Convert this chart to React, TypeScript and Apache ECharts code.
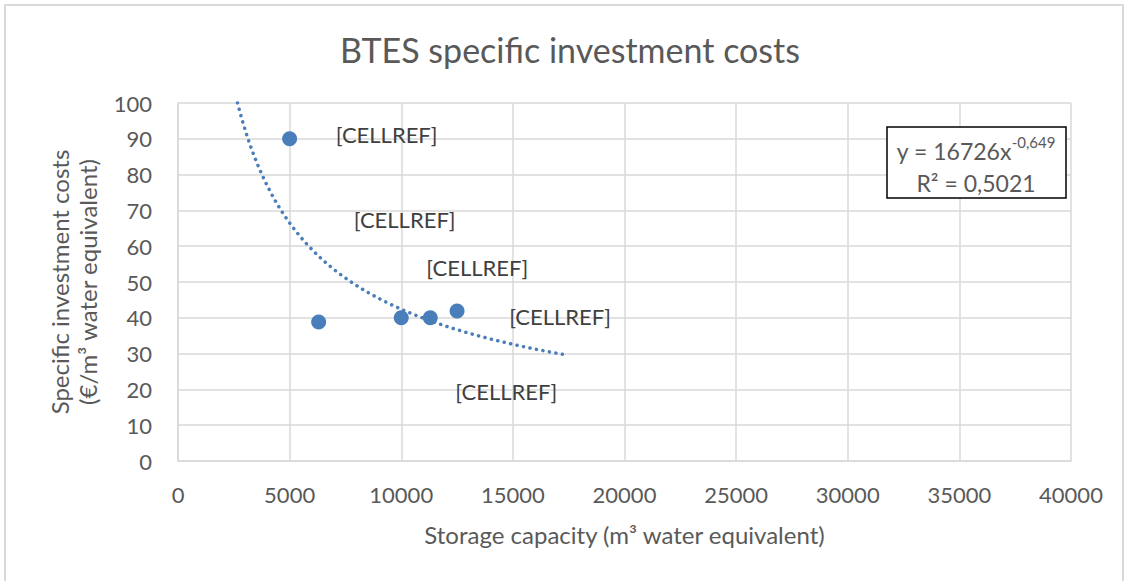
import React, { useEffect, useRef } from "react";
import * as echarts from "echarts";

const TITLE = "BTES specific investment costs";
const X_NAME = "Storage capacity (m³ water equivalent)";
const Y_NAME_LINES = ["Specific investment costs", "(€/m³ water equivalent)"];

const capacities = [5000, 6300, 10000, 11300, 12500];
const costs = [90, 38.8, 40, 40, 41.9];
const labelText = "[CELLREF]";
// label offsets (style) for each point's displaced data label
const labelOffsets: [number, number][] = [
  [97, -4],
  [86, -103],
  [76, -50],
  [76, 74],
  [103, 6],
];

// power trendline y = A * x^B (from the chart's trendline equation)
const TREND_A = 16726;
const TREND_B = -0.649;
const TREND_X_START = 2664;
const TREND_X_END = 17424;
const TREND_LABEL_LINE1 = "y = 16726x";
const TREND_LABEL_EXP = "-0,649";
const TREND_LABEL_LINE2 = "R² = 0,5021";

const FONT = "Lato, 'Open Sans', sans-serif";

export default function App() {
  const ref = useRef<HTMLDivElement>(null);
  useEffect(() => {
    if (!ref.current) return;
    const chart = echarts.init(ref.current, undefined, { renderer: "svg" });

    const trend: [number, number][] = [];
    const steps = 120;
    for (let i = 0; i <= steps; i++) {
      const x = TREND_X_START + ((TREND_X_END - TREND_X_START) * i) / steps;
      trend.push([x, TREND_A * Math.pow(x, TREND_B)]);
    }

    const scatterData = capacities.map((c, i) => ({
      value: [c, costs[i]],
      label: {
        show: true,
        formatter: labelText,
        position: "inside",
        offset: labelOffsets[i],
        color: "#404040",
        fontSize: 22,
        fontFamily: FONT,
      },
    }));

    chart.setOption({
      animation: false,
      backgroundColor: "#ffffff",
      title: {
        text: TITLE,
        left: 565,
        textAlign: "center",
        top: 27,
        textStyle: {
          color: "#595959",
          fontSize: 34,
          fontWeight: "normal",
          fontFamily: FONT,
        },
      },
      grid: { left: 178, top: 103, right: 58, bottom: 120 },
      xAxis: {
        type: "value",
        min: 0,
        max: 40000,
        interval: 5000,
        name: X_NAME,
        nameLocation: "middle",
        nameGap: 61,
        nameTextStyle: { color: "#595959", fontSize: 24, fontFamily: FONT },
        axisLine: { show: true, lineStyle: { color: "#d9d9d9", width: 1.5 } },
        axisTick: { show: false },
        axisLabel: {
          color: "#595959",
          fontSize: 22,
          fontFamily: FONT,
          margin: 22,
          formatter: (v: number) => String(v),
        },
        splitLine: { show: true, lineStyle: { color: "#d9d9d9", width: 1.5 } },
      },
      yAxis: {
        type: "value",
        min: 0,
        max: 100,
        interval: 10,
        name: Y_NAME_LINES.join("\n"),
        nameLocation: "middle",
        nameRotate: 90,
        nameGap: 77,
        nameTextStyle: {
          color: "#595959",
          fontSize: 24,
          fontFamily: FONT,
          lineHeight: 28,
        },
        axisLine: { show: true, lineStyle: { color: "#d9d9d9", width: 1.5 } },
        axisTick: { show: false },
        axisLabel: {
          color: "#595959",
          fontSize: 22,
          fontFamily: FONT,
          margin: 26,
        },
        splitLine: { show: true, lineStyle: { color: "#d9d9d9", width: 1.5 } },
      },
      series: [
        {
          type: "line",
          data: trend,
          showSymbol: false,
          symbol: "none",
          smooth: false,
          lineStyle: { color: "#4a7ebb", width: 3.5, type: [0.1, 6.5], cap: "round" },
          z: 2,
        },
        {
          type: "scatter",
          data: scatterData,
          symbolSize: 15,
          itemStyle: { color: "#4a7ebb", opacity: 1 },
          z: 3,
        },
      ],
      graphic: [
        {
          type: "rect",
          shape: { x: 5, y: 5, width: 1118, height: 620 },
          style: { fill: "none", stroke: "#d9d9d9", lineWidth: 2 },
          silent: true,
        },
        {
          type: "rect",
          shape: { x: 887, y: 127, width: 179, height: 71 },
          style: { fill: "#ffffff", stroke: "#000000", lineWidth: 1.5 },
          z: 10,
        },
        {
          type: "text",
          x: 976,
          y: 148,
          z: 11,
          style: {
            text: `{a|${TREND_LABEL_LINE1}}{s|${TREND_LABEL_EXP}}`,
            align: "center",
            verticalAlign: "middle",
            rich: {
              a: { fontSize: 23, fontFamily: FONT, fill: "#595959", lineHeight: 28, verticalAlign: "bottom" },
              s: { fontSize: 15, fontFamily: FONT, fill: "#595959", lineHeight: 28, verticalAlign: "top", padding: [0, 0, 10, 0] },
            },
          },
        },
        {
          type: "text",
          x: 976,
          y: 183,
          z: 11,
          style: {
            text: TREND_LABEL_LINE2,
            align: "center",
            verticalAlign: "middle",
            fontSize: 23,
            fontFamily: FONT,
            fill: "#595959",
          },
        },
      ],
    });

    return () => chart.dispose();
  }, []);

  return (
    <div
      ref={ref}
      style={{ position: "fixed", left: 0, top: 0, width: 1129, height: 581 }}
    />
  );
}
